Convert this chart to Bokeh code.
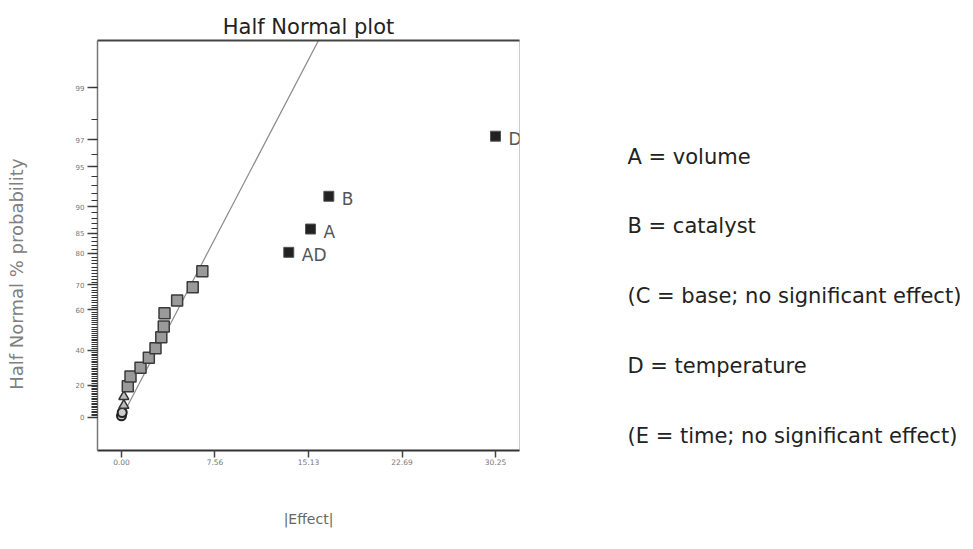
from statistics import NormalDist
from bokeh.plotting import figure
from bokeh.layouts import row
from bokeh.models import Range1d, FixedTicker, LinearAxis, ColumnDataSource
from bokeh.core.properties import value
from bokeh.embed import file_html
from bokeh.resources import INLINE

# ---------------- data ----------------
effects = [0.0, 0.06, 0.19, 0.19, 0.51, 0.73, 1.54, 2.21, 2.75, 3.22, 3.42, 3.48,
           4.50, 5.76, 6.54, 13.53, 15.29, 16.77, 30.25]
probabilities = [1.0, 3.1, 7.5, 13.0, 19.3, 25.1, 30.2, 35.9, 41.2, 46.9, 52.3, 58.5,
                 63.9, 69.1, 74.7, 80.3, 85.9, 91.6, 97.2]
kinds = ["error", "error", "neg", "neg"] + ["pos"] * 11 + ["selected"] * 4
term_labels = [""] * 15 + ["AD", "A", "B", "D"]

line_sigma = 5.41          # fitted line: z = |effect| / sigma

x_tick_values = [0.0, 7.5625, 15.125, 22.6875, 30.25]
x_tick_labels = ["0.00", "7.56", "15.13", "22.69", "30.25"]
y_tick_pcts = [0, 20, 40, 60, 70, 80, 85, 90, 95, 97, 99]
y_minor_pcts = list(range(0, 100))

legend_lines = ["A = volume", "B = catalyst", "(C = base; no significant effect)",
                "D = temperature", "(E = time; no significant effect)"]

title_text = "Half Normal plot"
x_label = "|Effect|"
y_label = "Half Normal % probability"

# ---------------- half-normal probability scale ----------------
nd = NormalDist()


def hn(pct):
    return nd.inv_cdf(0.5 + pct / 200.0)


FONT = "DejaVu Sans"
TOP, BOTTOM = 40, 99
H = 549

p = figure(width=548, height=H, output_backend="svg", toolbar_location=None,
           x_range=Range1d(-1.94, 32.19), y_range=Range1d(-0.258, 2.945),
           min_border_left=97, min_border_right=29, min_border_top=TOP, min_border_bottom=BOTTOM)
p.grid.visible = False
p.outline_line_color = "#cccccc"
p.outline_line_width = 1
p.background_fill_color = "white"
p.border_fill_color = "white"

# x axis
xa = p.xaxis[0]
xa.ticker = FixedTicker(ticks=x_tick_values)
xa.major_label_overrides = {v: l for v, l in zip(x_tick_values, x_tick_labels)}
xa.axis_line_color = "#333333"
xa.axis_line_width = 2
xa.major_tick_line_color = "#444444"
xa.major_tick_line_width = 1.5
xa.major_tick_out = 7
xa.major_tick_in = 0
xa.minor_tick_line_color = None
xa.major_label_text_font = FONT
xa.major_label_text_font_size = "7.5px"
xa.major_label_text_color = "#777777"
xa.major_label_standoff = 1
xa.axis_label = x_label
xa.axis_label_text_font = FONT
xa.axis_label_text_font_size = "14px"
xa.axis_label_text_font_style = "normal"
xa.axis_label_text_color = "#666666"
xa.axis_label_standoff = 43

# y axis
ya = p.yaxis[0]
y_major = [hn(v) for v in y_tick_pcts]
ya.ticker = FixedTicker(ticks=y_major, minor_ticks=[hn(v) for v in y_minor_pcts])
ya.major_label_overrides = {z: str(v) for z, v in zip(y_major, y_tick_pcts)}
ya.axis_line_color = "#777777"
ya.axis_line_width = 1.5
ya.major_tick_line_color = "#444444"
ya.major_tick_line_width = 1.5
ya.major_tick_out = 10
ya.major_tick_in = 0
ya.minor_tick_line_color = "#333333"
ya.minor_tick_line_width = 1.2
ya.minor_tick_out = 6
ya.minor_tick_in = 0
ya.major_label_text_font = FONT
ya.major_label_text_font_size = "7px"
ya.major_label_text_color = "#777777"
ya.major_label_standoff = 3
# trailing no-break spaces move the visible text below the frame centre, as in the reference
ya.axis_label = y_label + "\u00a0" * 10
ya.axis_label_text_font = FONT
ya.axis_label_text_font_size = "18px"
ya.axis_label_text_font_style = "normal"
ya.axis_label_text_color = "#808080"
ya.axis_label_standoff = 46

# top border + title as axis label
top = LinearAxis(ticker=FixedTicker(ticks=[]), axis_label=title_text)
top.axis_line_color = "#444444"
top.axis_line_width = 2
top.major_tick_out = 0
top.major_tick_in = 0
top.major_label_standoff = 0
top.minor_tick_line_color = None
top.major_label_text_font_size = "0px"
top.axis_label_text_font = FONT
top.axis_label_text_font_size = "21px"
top.axis_label_text_font_style = "normal"
top.axis_label_text_color = "#222222"
top.axis_label_standoff = 2
p.add_layout(top, "above")

# fitted line
line_x = [0.0, 20.0]
p.line(line_x, [x / line_sigma for x in line_x], line_color="#8a8a8a", line_width=1.2)

# points
z_vals = [hn(v) for v in probabilities]
styles = {
    "error": dict(marker="circle", size=9, fill_color="#cccccc", line_color="#222222", line_width=2),
    "neg": dict(marker="triangle", size=10, fill_color="#bbbbbb", line_color="#333333", line_width=1.5),
    "pos": dict(marker="square", size=11, fill_color="#9a9a9a", line_color="#3a3a3a", line_width=1.5),
    "selected": dict(marker="square", size=10, fill_color="#222222", line_color="#555555", line_width=1),
}
for kind, st in styles.items():
    idx = [i for i, k in enumerate(kinds) if k == kind]
    src = ColumnDataSource(dict(x=[effects[i] for i in idx], y=[z_vals[i] for i in idx]))
    p.scatter("x", "y", source=src, **st)

lab_idx = [i for i, t in enumerate(term_labels) if t]
lab_src = ColumnDataSource(dict(x=[effects[i] for i in lab_idx], y=[z_vals[i] for i in lab_idx],
                                t=[term_labels[i] for i in lab_idx]))
p.text("x", "y", text="t", source=lab_src, x_offset=13, y_offset=3,
       text_font=value(FONT), text_font_size="17px", text_color="#555555",
       text_baseline="middle", text_align="left")

# right-hand legend text (a second panel whose frame lines up with the chart frame;
# its data units are page pixels)
q = figure(width=425, height=H, output_backend="svg", toolbar_location=None,
           x_range=Range1d(548, 973), y_range=Range1d(H - BOTTOM, TOP),
           min_border_left=0, min_border_right=0, min_border_top=TOP, min_border_bottom=BOTTOM,
           x_axis_location=None, y_axis_location=None)
q.grid.visible = False
q.outline_line_color = None
leg_src = ColumnDataSource(dict(x=[627] * len(legend_lines),
                                y=[156 + i * 69.75 for i in range(len(legend_lines))],
                                t=legend_lines))
q.text("x", "y", text="t", source=leg_src, text_font=value(FONT), text_font_size="21px",
       text_color="#222222", text_baseline="middle", text_align="left")

layout = row(p, q)
open("out.html", "w").write(file_html(layout, INLINE))
